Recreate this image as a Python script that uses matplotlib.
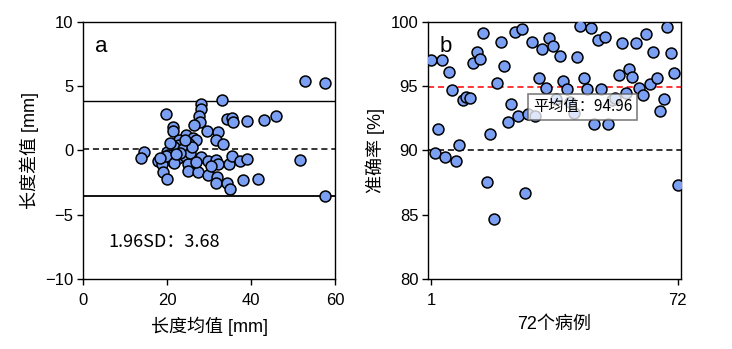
import matplotlib.pyplot as plt
import numpy as np

plt.rcParams['font.family'] = ['Liberation Sans', 'Noto Sans CJK SC']
plt.rcParams['axes.unicode_minus'] = True

# a: 长度均值 / 长度差值 (mm)
mean_len = [52.9, 57.6, 33.0, 28.1, 28.1, 27.7, 27.9, 26.5, 19.8, 21.5,
            21.4, 29.4, 32.2, 31.7, 33.3, 34.2, 35.4, 35.6, 39.1, 43.2,
            45.9, 24.4, 26.3, 26.9, 22.9, 22.9, 21.7, 25.3, 25.3, 23.9,
            20.1, 14.6, 13.8, 17.9, 18.9, 20.2, 21.5, 22.7, 24.3, 25.1,
            28.1, 29.8, 31.7, 32.2, 34.8, 35.4, 37.4, 39.0, 51.6, 19.0,
            19.9, 25.1, 27.3, 29.7, 31.8, 31.7, 34.2, 35.0, 38.2, 41.7,
            57.6, 25.5, 19.7, 21.7, 23.0, 26.0, 24.2, 18.4, 22.2, 20.8,
            27.0, 30.5]
diff_len = [5.43, 5.28, 3.94, 3.60, 3.23, 2.70, 2.23, 1.97, 2.83, 1.79,
            1.50, 1.50, 1.44, 0.84, 0.52, 2.44, 2.55, 2.18, 2.31, 2.36,
            2.70, 1.18, 1.00, 0.84, 0.79, 0.39, 0.26, 0.52, 0.00, 0.13,
            -0.08, -0.08, -0.60, -0.84, -1.05, -0.34, -0.92, -0.60, -0.39, -1.05,
            -0.47, -0.84, -0.73, -1.05, -1.05, -0.39, -0.84, -0.65, -0.73, -1.65,
            -2.18, -1.57, -1.71, -1.89, -2.05, -2.50, -2.54, -3.00, -2.28, -2.23,
            -3.57, -0.21, -0.45, -1.00, -0.20, 0.30, 0.85, -0.55, -0.30, 0.55,
            -0.90, -1.20]
mean_diff = 0.15
sd196 = 3.68

# b: 每个病例的准确率 (%)
accuracy = [97.04, 89.81, 91.71, 97.04, 89.50, 96.13, 94.70, 89.19, 90.41, 93.92,
            94.18, 94.10, 96.78, 97.69, 97.09, 99.17, 87.55, 91.27, 84.65, 95.22,
            98.41, 96.57, 92.23, 93.61, 99.22, 92.67, 99.48, 86.73, 92.81, 98.41,
            92.67, 95.61, 97.90, 94.83, 98.73, 98.15, 93.97, 97.35, 95.42, 94.78,
            93.79, 92.88, 97.30, 99.71, 95.61, 94.78, 99.50, 92.10, 98.60, 94.78,
            98.80, 92.05, 93.92, 94.10, 95.87, 98.39, 94.44, 96.31, 95.74, 98.34,
            94.83, 94.31, 99.04, 95.17, 97.64, 95.61, 93.06, 93.97, 99.63, 97.56,
            96.05, 87.35]
acc_mean = 94.96
threshold = 90

dot_color = '#7B9FF2'

fig = plt.figure(figsize=(7.32, 3.49), dpi=100)
ax1 = fig.add_axes([0.1134, 0.2006, 0.3443, 0.7364])
ax2 = fig.add_axes([0.5847, 0.2006, 0.3456, 0.7364])

# --- panel a ---
ax1.scatter(mean_len, diff_len, s=62, c=dot_color, edgecolors='black', linewidths=1.1, zorder=3)
ax1.axhline(mean_diff, color='black', ls=(0, (4, 2.5)), lw=1.1)
ax1.axhline(mean_diff + sd196, color='black', lw=1.0)
ax1.axhline(mean_diff - sd196, color='black', lw=1.3)
ax1.set_xlim(0, 60)
ax1.set_ylim(-10, 10)
ax1.set_xticks([0, 20, 40, 60])
ax1.set_yticks([-10, -5, 0, 5, 10])
ax1.set_xlabel('长度均值 [mm]', fontsize=13, labelpad=6)
ax1.set_ylabel('长度差值 [mm]', fontsize=13, labelpad=4)
ax1.text(0.048, 0.885, 'a', transform=ax1.transAxes, fontsize=16)
ax1.text(6, -7.5, '1.96SD：3.68', fontsize=13, family=['Noto Sans CJK SC'])

# --- panel b ---
case_no = np.arange(1, len(accuracy) + 1)
ax2.scatter(case_no, accuracy, s=62, c=dot_color, edgecolors='black', linewidths=1.1, zorder=3)
ax2.axhline(acc_mean, color='red', ls=(0, (4, 2.5)), lw=1.1)
ax2.axhline(threshold, color='black', ls=(0, (4, 2.5)), lw=1.1)
ax2.set_xlim(0, 73)
ax2.set_ylim(80, 100)
ax2.set_xticks([1, 72])
ax2.set_yticks([80, 85, 90, 95, 100])
ax2.set_xlabel('72个病例', fontsize=13, labelpad=6)
ax2.set_ylabel('准确率 [%]', fontsize=13, labelpad=4)
ax2.text(0.045, 0.885, 'b', transform=ax2.transAxes, fontsize=16)
ax2.text(30.3, 93.4, '平均值：94.96', fontsize=11, va='center', zorder=4,
         family=['Noto Sans CJK SC'],
         bbox=dict(boxstyle='square,pad=0.3', fc='white', ec='#555555', alpha=0.75, lw=1.2))

for ax in (ax1, ax2):
    ax.tick_params(labelsize=12, length=4, width=1, pad=6)
    ax.tick_params(axis='y', pad=3)
    for sp in ax.spines.values():
        sp.set_linewidth(1.0)

fig.savefig('out.png', dpi=100)
